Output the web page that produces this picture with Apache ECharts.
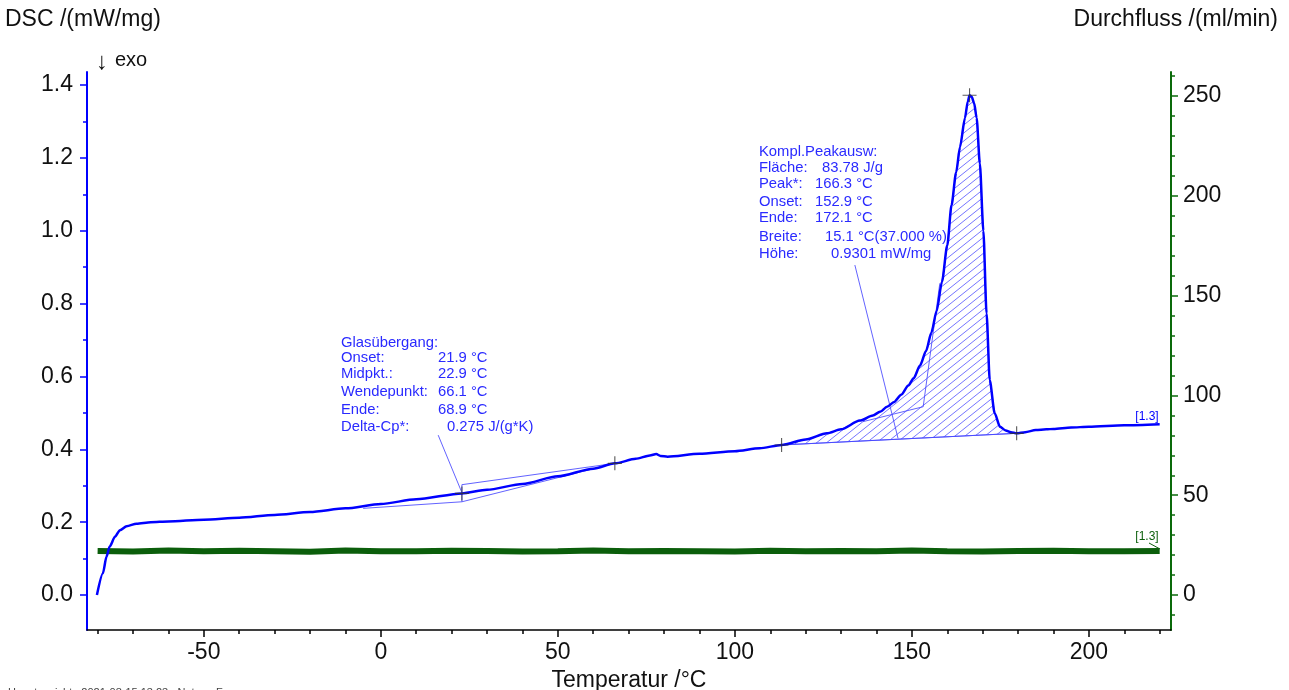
<!DOCTYPE html>
<html><head><meta charset="utf-8">
<script src="https://cdn.jsdelivr.net/npm/echarts@6/dist/echarts.min.js"></script>
<style>html,body{margin:0;padding:0;background:#fff}#c{width:1289px;height:690px}</style>
</head><body><div id="c"></div>
<script>
// ---------- DATA ----------
const dscTemp = [-80.2,-78.5,-77.5,-76.6,-75.1,-73.7,-71.8,-69,-65,-60,-50,-40,-30,-20,-10,0,10,22.9,30,40,50,60,66.1,72,76,77.8,79,81,90,100,107,113.2,120,126,130,135.3,139,141,143,145,147,149,150.5,152.3,154,155.5,157,158.5,160,161.2,162.5,163.6,165,165.8,166.3,166.9,167.6,168.3,169.2,170.2,171.1,172,173.4,174.9,176.5,178,179.6,182,185,188,190,195,200,210,220];
const dscValue = [0.000,0.060,0.105,0.133,0.160,0.178,0.189,0.196,0.200,0.202,0.207,0.212,0.220,0.228,0.238,0.250,0.263,0.279,0.289,0.305,0.326,0.347,0.3615,0.374,0.383,0.387,0.382,0.380,0.388,0.395,0.403,0.412,0.427,0.444,0.455,0.479,0.493,0.503,0.517,0.530,0.550,0.575,0.595,0.630,0.670,0.720,0.780,0.860,0.960,1.070,1.160,1.230,1.310,1.355,1.372,1.368,1.350,1.310,1.185,1.000,0.773,0.590,0.499,0.462,0.452,0.447,0.444,0.447,0.453,0.455,0.456,0.460,0.462,0.466,0.469];
const flowTemp = [-80,-70,-60,-50,-40,-30,-20,-10,0,10,20,30,40,50,60,70,80,90,100,110,120,130,140,150,160,170,180,190,200,210,220];
const flowValue = [22.1,21.8,22.3,21.9,22.2,22.0,21.7,22.3,22.0,21.9,22.2,22.1,21.8,22.0,22.3,21.9,22.1,22.0,21.8,22.2,22.0,22.1,21.9,22.3,22.0,21.8,22.1,22.2,21.9,22.0,22.1];
const markerTemp = [22.9, 66.1, 113.2, 166.3, 179.6];
const markerValue = [0.279, 0.3615, 0.412, 1.372, 0.444];
// evaluation construction lines (data coordinates)
const glassUpper = [[22.9,0.303],[66.1,0.3615]];
const glassLower = [[-5,0.238],[22.9,0.256],[66.1,0.3615]];
const glassStep = [[22.9,0.256],[22.9,0.303]];
const glassCallout = [[16.2,0.439],[22.8,0.2835]];
const peakBaseline = [[113.2,0.412],[179.6,0.444]];
const peakConstruction = [[136.2,0.476],[153.2,0.517],[157.9,0.856]];
const peakCallout = [[133.9,0.906],[146.1,0.430]];
// ticks
const xMajorTicks = [-50,0,50,100,150,200];
const xMinorTicks = [-80,-70,-60,-40,-30,-20,-10,10,20,30,40,60,70,80,90,110,120,130,140,160,170,180,190,210,220];
const dscMajorTicks = [0.0,0.2,0.4,0.6,0.8,1.0,1.2,1.4];
const dscMinorTicks = [0.1,0.3,0.5,0.7,0.9,1.1,1.3];
const flowMajorTicks = [0,50,100,150,200,250];
const flowMinorTicks = [-10,10,20,30,40,60,70,80,90,110,120,130,140,160,170,180,190,210,220,230,240,260];
// texts
const glassLabels = ['Glasübergang:','Onset:','Midpkt.:','Wendepunkt:','Ende:','Delta-Cp*:'];
const glassValues = ['','21.9 °C','22.9 °C','66.1 °C','68.9 °C','0.275 J/(g*K)'];
const peakLabels = ['Kompl.Peakausw:','Fläche:','Peak*:','Onset:','Ende:','Breite:','Höhe:'];
const peakValues = ['','83.78 J/g','166.3 °C','152.9 °C','172.1 °C','15.1 °C(37.000 %)','0.9301 mW/mg'];
const curveTag = '[1.3]';
const yLeftTitle = 'DSC /(mW/mg)';
const yRightTitle = 'Durchfluss /(ml/min)';
const xTitle = 'Temperatur /°C';
const footerText = 'Hauptansicht   2021-08-15 13:23   Nutzer: F...';

// ---------- LAYOUT / STYLE ----------
const FONT = "'Liberation Sans', Arial, sans-serif";
const BLUE = '#0000ff';
const THIN = 'rgba(70,70,255,0.85)';
const ANN = '#2a2aff';
const GREEN = '#0b5e0b';
const AXGREEN = '#0a6a0a';
const X_MIN = -83, X_MAX = 223.2, L_MIN = -0.096, L_MAX = 1.436, R_MIN = -17.5, R_MAX = 262;

const pc = document.createElement('canvas'); pc.width = 10; pc.height = 8;
const g = pc.getContext('2d');
g.strokeStyle = 'rgba(70,70,255,0.75)'; g.lineWidth = 1;
g.beginPath(); g.moveTo(-1, 8.8); g.lineTo(11, -0.8); g.moveTo(-11, 8.8); g.lineTo(1, -0.8); g.moveTo(9, 8.8); g.lineTo(21, -0.8); g.stroke();

const chart = echarts.init(document.getElementById('c'), null, {renderer: 'canvas'});

function thinLine(pts, name) {
  return {type: 'line', name: name, data: pts, symbol: 'none', silent: true, z: 3,
    lineStyle: {color: THIN, width: 1}, animation: false};
}

const glassLineY = [343, 358, 374, 392, 410, 427];
const glassValX = [0, 438, 438, 438, 438, 447];
const peakLineY = [152, 168, 184, 202, 218, 237, 254];
const peakValX = [0, 822, 815, 815, 815, 825, 831];

const graphics = [];
function txt(x, y, s, size, color, align) {
  graphics.push({type: 'text', x: x, y: y, silent: true, z: 100,
    style: {text: s, font: size + 'px ' + FONT, fill: color, align: align || 'left', verticalAlign: 'middle'}});
}
glassLabels.forEach((s, i) => txt(341, glassLineY[i], s, 14.8, ANN));
glassValues.forEach((s, i) => { if (s) txt(glassValX[i], glassLineY[i], s, 14.8, ANN); });
peakLabels.forEach((s, i) => txt(759, peakLineY[i], s, 14.8, ANN));
peakValues.forEach((s, i) => { if (s) txt(peakValX[i], peakLineY[i], s, 14.8, ANN); });
txt(5, 20, yLeftTitle, 23, '#111');
txt(1278, 20, yRightTitle, 23, '#111', 'right');
txt(96, 62, '↓', 24, '#111');
txt(115, 60, 'exo', 20, '#111');
txt(1147, 417, curveTag, 12, BLUE, 'center');
txt(1147, 537, curveTag, 12, GREEN, 'center');
txt(8, 693, footerText, 11, '#444');
graphics.push({type: 'line', silent: true, z: 100, shape: {x1: 1149, y1: 543, x2: 1160, y2: 549}, style: {stroke: GREEN, lineWidth: 1}});

function axisBase(color, min, max, pos, majors, lineW) {
  return {
    type: 'value', min: min, max: max, position: pos,
    axisLine: {show: true, onZero: false, lineStyle: {color: color, width: lineW}},
    axisTick: {show: true, length: 7, customValues: majors, lineStyle: {color: color, width: 1.5}},
    minorTick: {show: false},
    splitLine: {show: false}
  };
}
function minorAxis(color, min, max, pos, minors) {
  return {
    type: 'value', min: min, max: max, position: pos, offset: 0,
    axisLine: {show: false, onZero: false},
    axisTick: {show: true, length: 4, customValues: minors, lineStyle: {color: color, width: 1.5}},
    axisLabel: {show: false}, minorTick: {show: false}, splitLine: {show: false}
  };
}

const xMain = axisBase('#000', X_MIN, X_MAX, 'bottom', xMajorTicks, 1.5);
xMain.name = xTitle; xMain.nameLocation = 'middle'; xMain.nameGap = 36;
xMain.nameTextStyle = {fontFamily: FONT, fontSize: 23, color: '#111'};
xMain.axisLabel = {fontFamily: FONT, fontSize: 23, color: '#111', margin: 11, customValues: xMajorTicks};

const yLeft = axisBase(BLUE, L_MIN, L_MAX, 'left', dscMajorTicks, 2);
yLeft.axisLabel = {fontFamily: FONT, fontSize: 23, color: '#111', margin: 14, customValues: dscMajorTicks, formatter: v => v.toFixed(1)};
const yRight = axisBase(AXGREEN, R_MIN, R_MAX, 'right', flowMajorTicks, 2);
yRight.axisLabel = {fontFamily: FONT, fontSize: 23, color: '#111', margin: 12, customValues: flowMajorTicks};

const option = {
  animation: false,
  backgroundColor: '#fff',
  grid: {left: 87, right: 118, top: 72, bottom: 60, containLabel: false, outerBoundsMode: 'none'},
  xAxis: [xMain, minorAxis('#000', X_MIN, X_MAX, 'bottom', xMinorTicks)],
  yAxis: [yLeft, yRight, minorAxis(BLUE, L_MIN, L_MAX, 'left', dscMinorTicks), minorAxis(AXGREEN, R_MIN, R_MAX, 'right', flowMinorTicks)],
  series: [
    {
      type: 'custom', name: 'peakArea', silent: true, z: 2, xAxisIndex: 0, yAxisIndex: 0,
      data: [[peakBaseline[0][0], peakBaseline[0][1]]],
      renderItem: function (params, api) {
        const pts = [];
        for (let i = 0; i < dscTemp.length; i++) {
          if (dscTemp[i] >= peakBaseline[0][0] && dscTemp[i] <= peakBaseline[1][0]) pts.push(api.coord([dscTemp[i], dscValue[i]]));
        }
        pts.push(api.coord(peakBaseline[1]));
        pts.push(api.coord(peakBaseline[0]));
        return {type: 'polygon', shape: {points: pts},
          style: {fill: {image: pc, repeat: 'repeat'}, stroke: THIN, lineWidth: 1}};
      }
    },
    {
      type: 'line', name: 'flow', yAxisIndex: 1, symbol: 'none', z: 4,
      data: flowTemp.map((t, i) => [t, flowValue[i]]),
      lineStyle: {color: GREEN, width: 6}
    },
    thinLine(glassUpper, 'gU'), thinLine(glassLower, 'gL'), thinLine(glassStep, 'gS'), thinLine(glassCallout, 'gC'),
    thinLine(peakBaseline, 'pB'), thinLine(peakConstruction, 'pK'), thinLine(peakCallout, 'pC'),
    {
      type: 'line', name: 'DSC', yAxisIndex: 0, symbol: 'none', z: 6,
      smooth: 0.25, smoothMonotone: 'x',
      data: dscTemp.map((t, i) => [t, dscValue[i]]),
      lineStyle: {color: BLUE, width: 2.5}
    },
    {
      type: 'scatter', name: 'markers', yAxisIndex: 0, z: 8, silent: true,
      symbol: 'path://M4.6,0h0.8v10h-0.8zM0,4.6h10v0.8h-10z', symbolSize: 14,
      itemStyle: {color: '#333'},
      data: markerTemp.map((t, i) => [t, markerValue[i]])
    }
  ],
  graphic: graphics
};
chart.setOption(option);
</script>
</body></html>
